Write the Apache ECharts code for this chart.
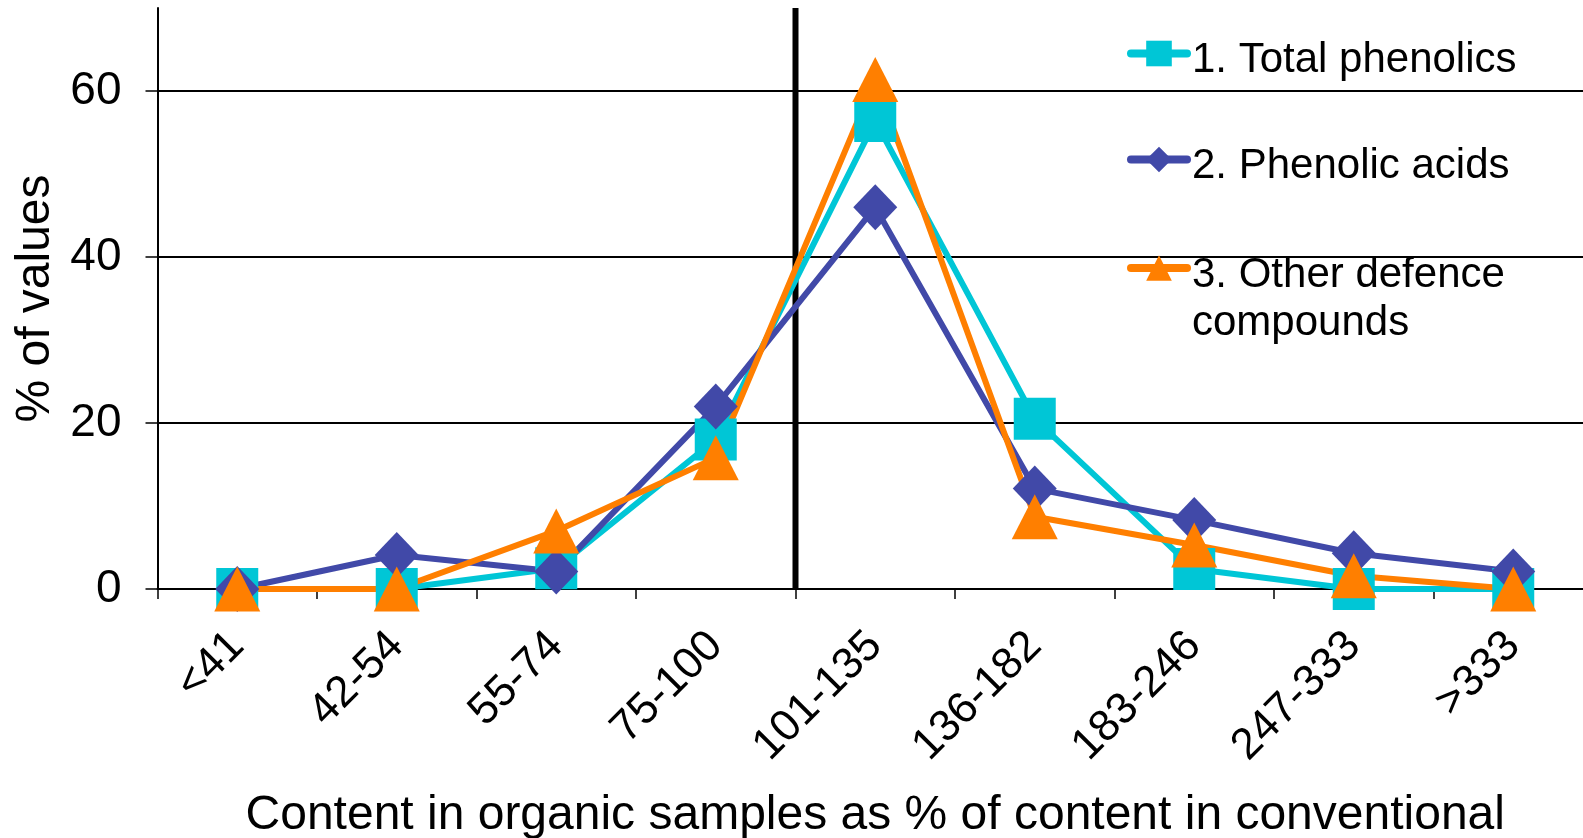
<!DOCTYPE html>
<html>
<head>
<meta charset="utf-8">
<script src="https://cdn.jsdelivr.net/npm/echarts@6/dist/echarts.min.js"></script>
<style>
  html, body { margin: 0; padding: 0; background: #ffffff; }
  #chart { width: 1583px; height: 838px; }
</style>
</head>
<body>
<div id="chart"></div>
<script>
// Ratio classes: organic content as % of conventional content
const categories = ['<41', '42-54', '55-74', '75-100', '101-135', '136-182', '183-246', '247-333', '>333'];

// % of values falling in each class
const totalPhenolics = [0, 0, 2.5, 18, 56.4, 20.5, 2.4, 0, 0];
const phenolicAcids  = [0, 4.1, 2.1, 22, 46, 12.1, 8.3, 4.3, 2.1];
const otherDefence   = [0, 0, 7, 15.8, 61.4, 8.7, 5.3, 1.6, 0];

const seriesNames = ['1. Total phenolics', '2. Phenolic acids', '3. Other defence\ncompounds'];
const yTicks = [0, 20, 40, 60];

// 100 % boundary (between "75-100" and "101-135") on a category-index scale
const dividerPosition = 4;

const FONT = 'Liberation Sans, Arial, sans-serif';
const CYAN = '#00c6d6';
const INDIGO = '#4149a8';
const ORANGE = '#ff7f00';

const chart = echarts.init(document.getElementById('chart'), null, { renderer: 'canvas' });

// legend text sits slightly below the icon; multi-line names keep the icon on line one
const legendRich = {
  gap7: { lineHeight: 14, fontSize: 10 },
  gap31: { lineHeight: 62, fontSize: 10 },
  t: { fontFamily: FONT, fontSize: 42, color: '#000', lineHeight: 48 }
};
const legendLabel = (name) => {
  const lines = name.split('\n');
  const gap = lines.length > 1 ? '{gap31| }' : '{gap7| }';
  return gap + '\n' + lines.map(l => '{t|' + l + '}').join('\n');
};

const legendCommon = {
  orient: 'vertical',
  left: 1127,
  padding: 0,
  itemWidth: 56,
  itemHeight: 32,
  itemGap: 0,
  selectedMode: false,
  lineStyle: { width: 8, cap: 'round' },
  formatter: legendLabel,
  textStyle: { fontFamily: FONT, fontSize: 42, color: '#000', rich: legendRich }
};

const lineSeries = (name, data, color, symbol, size) => ({
  name: name,
  type: 'line',
  data: data,
  symbol: symbol,
  symbolSize: size,
  showSymbol: true,
  lineStyle: { color: color, width: 6 },
  itemStyle: { color: color },
  emphasis: { disabled: true },
  animation: false
});

chart.setOption({
  backgroundColor: '#ffffff',
  animation: false,
  grid: { left: 157.5, top: 8, width: 1435.5, height: 581, containLabel: false, outerBoundsMode: 'none' },
  legend: [
    Object.assign({}, legendCommon, { top: 24.5, data: [seriesNames[0]] }),
    Object.assign({}, legendCommon, { top: 130.5, data: [seriesNames[1]] }),
    Object.assign({}, legendCommon, { top: 215, data: [seriesNames[2]] })
  ],
  xAxis: [
    {
      type: 'category',
      data: categories,
      boundaryGap: true,
      name: 'Content in organic samples as % of content in conventional',
      nameLocation: 'middle',
      nameGap: 203,
      nameTextStyle: { fontFamily: FONT, fontSize: 48, color: '#000' },
      axisLine: { show: true, lineStyle: { color: '#000', width: 2 } },
      axisTick: { show: true, alignWithLabel: false, length: 10, lineStyle: { color: '#000', width: 1.5 } },
      axisLabel: { rotate: 45, margin: 50, fontFamily: FONT, fontSize: 44, color: '#000', interval: 0 },
      splitLine: { show: false }
    },
    {
      type: 'value',
      min: 0,
      max: categories.length,
      show: false
    }
  ],
  yAxis: {
    type: 'value',
    min: 0,
    max: 70,
    interval: 20,
    name: '% of values',
    nameLocation: 'middle',
    nameGap: 96,
    nameRotate: 90,
    nameTextStyle: { fontFamily: FONT, fontSize: 48, color: '#000' },
    axisLine: { show: true, lineStyle: { color: '#000', width: 2 } },
    axisTick: { show: true, length: 12, inside: false, customValues: yTicks, lineStyle: { color: '#000', width: 1.5 } },
    axisLabel: { margin: 36, fontFamily: FONT, fontSize: 46, color: '#000', customValues: yTicks },
    splitLine: { show: true, lineStyle: { color: ['#000', '#000', '#000', '#000', 'rgba(0,0,0,0)'], width: 2 } }
  },
  series: [
    {
      name: 'divider',
      type: 'line',
      xAxisIndex: 1,
      data: [[dividerPosition, 0], [dividerPosition, 70]],
      symbol: 'none',
      lineStyle: { color: '#000', width: 6 },
      silent: true,
      clip: false,
      animation: false
    },
    lineSeries(seriesNames[0], totalPhenolics, CYAN, 'rect', 42),
    lineSeries(seriesNames[1], phenolicAcids, INDIGO, 'diamond', [44, 46]),
    lineSeries(seriesNames[2], otherDefence, ORANGE, 'triangle', [46, 45])
  ]
});
</script>
</body>
</html>
